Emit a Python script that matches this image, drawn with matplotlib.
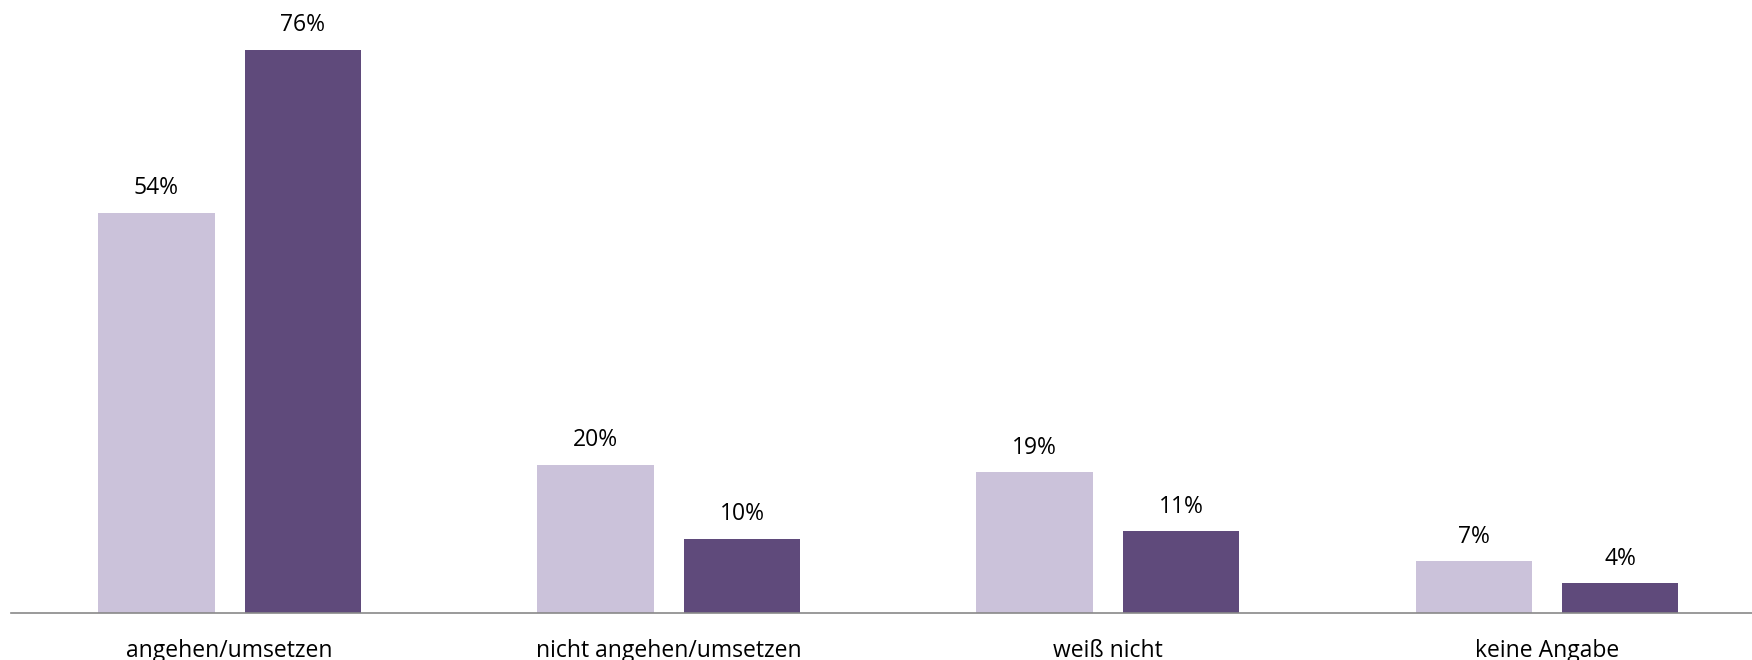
import matplotlib
matplotlib.use("Agg")
import matplotlib.pyplot as plt
import numpy as np

categories = ["angehen/umsetzen", "nicht angehen/umsetzen", "weiß nicht", "keine Angabe"]
series_a = [54, 20, 19, 7]
series_b = [76, 10, 11, 4]

color_a = "#CBC2DA"
color_b = "#5F4A7B"

plt.rcParams["font.family"] = ["Open Sans", "DejaVu Sans"]

fig = plt.figure(figsize=(17.52, 6.6), dpi=100)
ax = fig.add_axes([11 / 1752, 47 / 660, 1741 / 1752, 613 / 660])

x = np.arange(len(categories))
width = 0.265
offset = 0.1667

bars_a = ax.bar(x - offset, series_a, width, color=color_a)
bars_b = ax.bar(x + offset, series_b, width, color=color_b)

for bars, vals in ((bars_a, series_a), (bars_b, series_b)):
    for b, v in zip(bars, vals):
        ax.annotate(f"{v}%", (b.get_x() + b.get_width() / 2, v),
                    xytext=(0, 9), textcoords="offset points",
                    ha="center", va="bottom", fontsize=16.5, color="#000000")

ax.set_xlim(-0.498, 3.467)
ax.set_ylim(0, 82.7)

for side in ("top", "right", "left"):
    ax.spines[side].set_visible(False)
ax.spines["bottom"].set_color("#898989")
ax.spines["bottom"].set_linewidth(1.2)

ax.set_yticks([])
ax.set_xticks(x)
ax.set_xticklabels(categories, fontsize=16.5, color="#000000")
ax.tick_params(axis="x", length=0, pad=19)

fig.savefig("out.png", dpi=100, facecolor="white")
